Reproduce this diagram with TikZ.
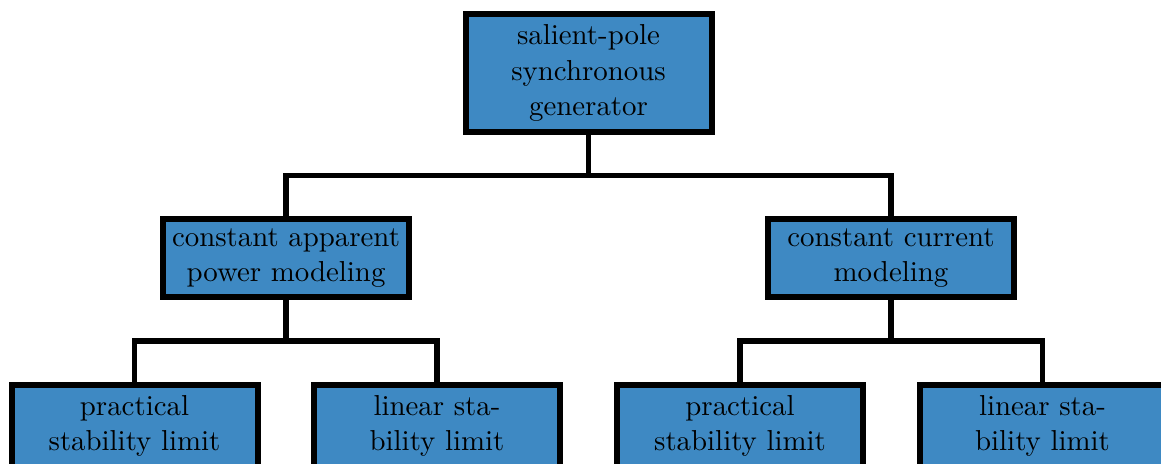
\documentclass[tikz,border=0pt]{standalone}
\definecolor{boxblue}{RGB}{62,137,195}
\tikzset{
  treebox/.style={draw=black, fill=boxblue, line width=2.1pt,
    minimum width=86.1pt, text width=82pt, align=center, inner sep=0pt,
    font=\fontsize{10.1}{12.5}\selectfont},
  tallbox/.style={treebox, minimum height=41.2pt},
  flatbox/.style={treebox, minimum height=27.3pt},
  leafbox/.style={treebox, minimum height=29pt},
  branch/.style={draw=black, line width=2pt}
}
\begin{document}
\begin{tikzpicture}[x=0.35pt,y=-0.35pt]
\useasboundingbox (0,0) rectangle (1161,463);
% heights of the two horizontal bars
\coordinate (bar0) at (0,175.5);
\coordinate (bar1) at (0,341);
% root
\node[tallbox] (root) at (588.5,73.2) {salient-pole\\synchronous\\generator};
% second level
\node[flatbox] (csp) at (286,258) {constant apparent\\power modeling};
\node[flatbox] (cc)  at (891,258) {constant current\\modeling};
% leaves
\node[leafbox] (csp1) at (134.5,426) {practical\\stability limit};
\node[leafbox] (csp2) at (437,426)   {linear sta-\\bility limit};
\node[leafbox] (cc1)  at (740,426)   {practical\\stability limit};
\node[leafbox] (cc2)  at (1042.5,426)  {linear sta-\\bility limit};
% connectors
\draw[branch] (root.south) -- (root.south |- bar0) coordinate (j0);
\draw[branch] (csp.north) |- (j0) -| (cc.north);
\draw[branch] (csp.south) -- (csp.south |- bar1) coordinate (j1);
\draw[branch] (csp1.north) |- (j1) -| (csp2.north);
\draw[branch] (cc.south) -- (cc.south |- bar1) coordinate (j2);
\draw[branch] (cc1.north) |- (j2) -| (cc2.north);
\end{tikzpicture}
\end{document}
